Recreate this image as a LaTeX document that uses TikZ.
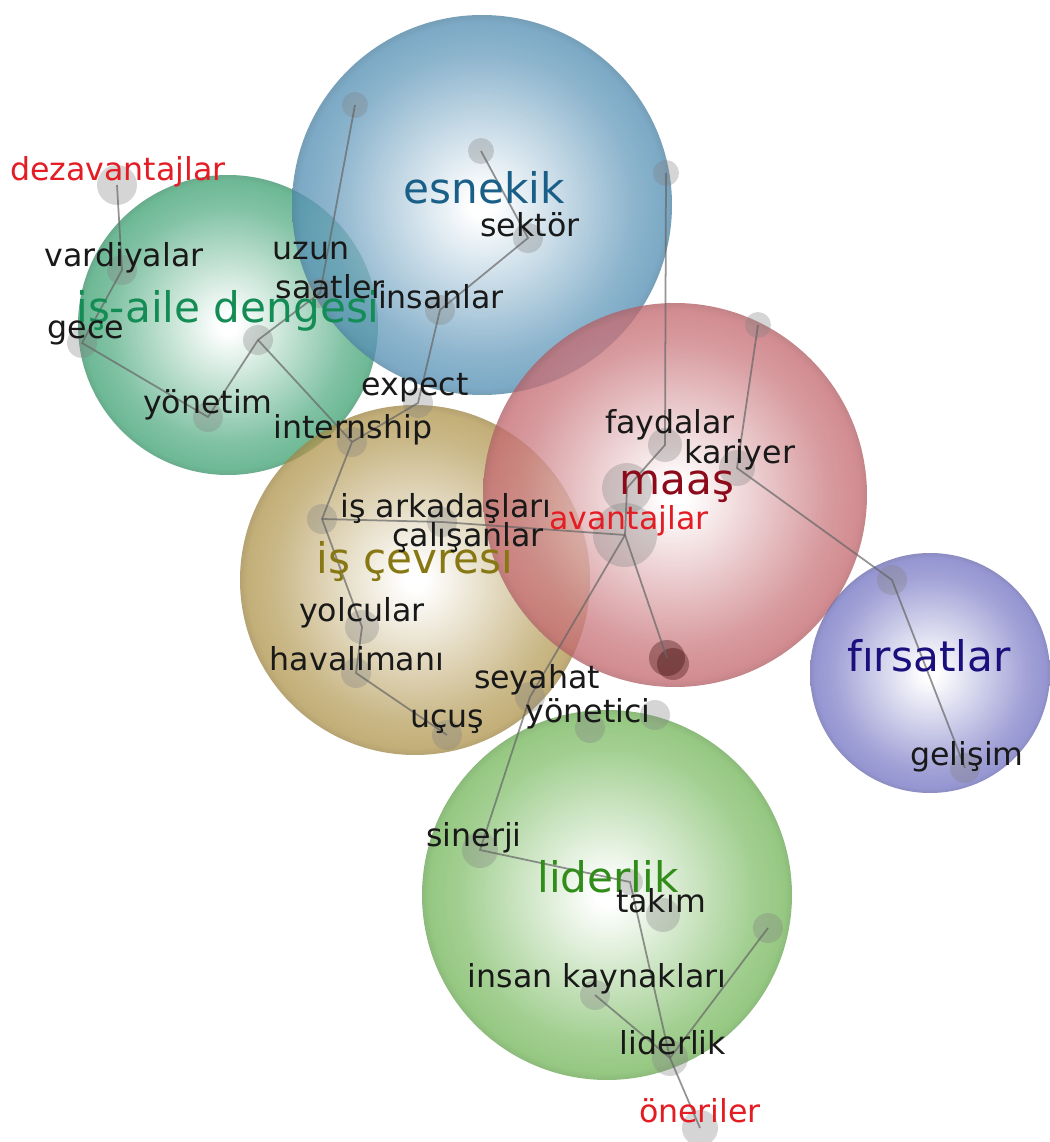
\documentclass[tikz,border=0pt]{standalone}
\usepackage{fontspec}
\setmainfont{DejaVu Sans}
\usepackage{tikz}

% soft radial fill for the topic bubbles (edge of a circle = 25bp)
\pgfdeclareradialshading[bubblecol]{bubble}{\pgfpoint{0bp}{0bp}}{%
  color(0bp)=(white); color(1.5bp)=(white);
  color(11bp)=(bubblecol!45!white); color(20bp)=(bubblecol!88!white);
  color(24bp)=(bubblecol); color(25bp)=(bubblecol!90!black);
  color(50bp)=(bubblecol!90!black)}

\definecolor{esnekblue}{RGB}{88,146,182}
\definecolor{ailegreen}{RGB}{69,165,120}
\definecolor{cevretan}{RGB}{178,152,82}
\definecolor{maasred}{RGB}{197,108,114}
\definecolor{firsatviolet}{RGB}{120,120,197}
\definecolor{liderleaf}{RGB}{120,185,95}
\definecolor{wordgray}{RGB}{25,25,25}
\definecolor{alertred}{RGB}{228,28,36}

\begin{document}
\begin{tikzpicture}[
    tint/.code={\colorlet{bubblecol}{#1}},
    ball/.style={circle, inner sep=0pt, minimum size=#1, shading=bubble, fill opacity=0.78},
    spot/.style={circle, inner sep=0pt, fill=black!50, fill opacity=0.33, minimum size=#1},
    spot/.default=3mm,
    link/.style={draw=black!60, draw opacity=0.7, line width=0.5pt},
    word/.style={inner sep=0pt, font=\fontsize{9}{10}\selectfont, text=wordgray},
    topic/.style={inner sep=0pt, font=\fontsize{12}{14}\selectfont}
]
\useasboundingbox (0,0) rectangle (10.5,11.42);

% Topic bubbles
\node[ball=3.0cm, tint=ailegreen] (aileball) at (2.28, 8.17) {};
\node[ball=3.8cm, tint=esnekblue] (esnekball) at (4.82, 9.37) {};
\node[ball=3.5cm, tint=cevretan] (cevreball) at (4.15, 5.62) {};
\node[ball=3.84cm, tint=maasred] (maasball) at (6.75, 6.47) {};
\node[ball=2.4cm, tint=firsatviolet] (firsatball) at (9.30, 4.69) {};
\node[ball=3.7cm, tint=liderleaf] (liderball) at (6.07, 2.47) {};

% Term spots: iş-aile dengesi
\node[spot=4mm] (dDez) at (1.17, 9.57) {};
\node[spot] (dVard) at (1.22, 8.72) {};
\node[spot] (dGece) at (0.82, 7.99) {};
\node[spot] (dYon) at (2.08, 7.25) {};
\node[spot] (dAile) at (2.58, 8.02) {};
\node[spot] (dUzun) at (3.20, 8.49) {};

% Term spots: esnekik
\node[spot=2.6mm] (dBlueTop) at (3.55, 10.37) {};
\node[spot=2.6mm] (dBlueMid) at (4.81, 9.91) {};
\node[spot] (dSektor) at (5.28, 9.04) {};
\node[spot] (dInsan) at (4.40, 8.32) {};
\node[spot] (dExpect) at (4.18, 7.39) {};

% Term spots: iş çevresi
\node[spot] (dIntern) at (3.52, 7.00) {};
\node[spot] (dArk) at (3.22, 6.23) {};
\node[spot] (dCalis) at (4.42, 6.20) {};
\node[spot=3.4mm] (dYolcu) at (3.62, 5.15) {};
\node[spot] (dHava) at (3.56, 4.69) {};
\node[spot] (dUcus) at (4.47, 4.07) {};
\node[spot] (dSeyahat) at (5.30, 4.45) {};

% Term spots: maaş
\node[spot=2.6mm] (dRedTop) at (6.66, 9.69) {};
\node[spot=2.6mm] (dRedRight) at (7.58, 8.17) {};
\node[spot=3.4mm] (dFayda) at (6.65, 6.97) {};
\node[spot=3.6mm] (dKariyer) at (7.37, 6.74) {};
\node[spot=5mm] (dMaas) at (6.27, 6.54) {};
\node[spot=6.4mm] (dAvantaj) at (6.25, 6.07) {};
\node[spot=3.6mm, fill=black!80!red] (dRedLow) at (6.67, 4.84) {};
\node[spot=3.2mm, fill=black!80!red] (dRedLow2) at (6.73, 4.78) {};

% Term spots: fırsatlar
\node[spot] (dFirsat) at (8.92, 5.62) {};
\node[spot] (dGelisim) at (9.65, 3.74) {};

% Term spots: liderlik
\node[spot] (dYonetA) at (5.90, 4.14) {};
\node[spot] (dYonetB) at (6.55, 4.27) {};
\node[spot=3.6mm] (dSinerji) at (4.80, 2.92) {};
\node[spot=2.6mm] (dHub) at (6.30, 2.60) {};
\node[spot=3.4mm] (dTakim) at (6.63, 2.27) {};
\node[spot] (dRight) at (7.68, 2.14) {};
\node[spot] (dInsanK) at (5.95, 1.47) {};
\node[spot=3.6mm] (dLider) at (6.70, 0.84) {};
\node[spot=3.6mm] (dOneri) at (7.00, 0.14) {};

% Links
\draw[link] (dDez.center) -- (dVard.center) -- (dGece.center) -- (dYon.center)
  -- (dAile.center) -- (dUzun.center) -- (dBlueTop.center);
\draw[link] (dAile.center) -- (dIntern.center);
\draw[link] (dBlueMid.center) -- (dSektor.center) -- (dInsan.center) -- (dExpect.center)
  -- (dIntern.center) -- (dArk.center) -- (dYolcu.center) -- (dHava.center) -- (dUcus.center);
\draw[link] (dArk.center) -- (dCalis.center) -- (dAvantaj.center);
\draw[link] (dRedTop.center) -- (dFayda.center) -- (dMaas.center) -- (dAvantaj.center);
\draw[link] (dRedRight.center) -- (dKariyer.center) -- (dFirsat.center) -- (dGelisim.center);
\draw[link] (dAvantaj.center) -- (dRedLow.center);
\draw[link] (dAvantaj.center) -- (dSeyahat.center) -- (dSinerji.center) -- (dHub.center)
  -- (dLider.center) -- (dOneri.center);
\draw[link] (dInsanK.center) -- (dLider.center);
\draw[link] (dRight.center) -- (dLider.center);

% Topic labels
\node[topic, text={rgb,255:red,25;green,95;blue,135}] (esnekik) at (4.84, 9.54) {esnekik};
\node[topic, text={rgb,255:red,20;green,140;blue,85}] (aile) at (2.28, 8.31) {iş-aile dengesi};
\node[topic, text={rgb,255:red,135;green,120;blue,20}] (cevre) at (4.15, 5.80) {iş çevresi};
\node[topic, text={rgb,255:red,140;green,10;blue,25}] (maas) at (6.77, 6.55) {maaş};
\node[topic, text={rgb,255:red,25;green,15;blue,125}] (firsat) at (9.29, 4.86) {fırsatlar};
\node[topic, text={rgb,255:red,50;green,140;blue,25}] (liderlik) at (6.08, 2.65) {liderlik};

% Term labels
\node[word, text=alertred] (dezavantaj) at (1.18, 9.70) {dezavantajlar};
\node[word] (vardiya) at (1.24, 8.84) {vardiyalar};
\node[word] (gece) at (0.86, 8.09) {gece};
\node[word] (yonetim) at (2.08, 7.37) {yönetim};
\node[word] (uzun) at (3.11, 8.91) {uzun};
\node[word] (saatler) at (3.30, 8.55) {saatler};
\node[word] (sektor) at (5.30, 9.17) {sektör};
\node[word] (insanlar) at (4.41, 8.45) {insanlar};
\node[word] (expect) at (4.15, 7.54) {expect};
\node[word] (internship) at (3.53, 7.12) {internship};
\node[word] (arkadas) at (4.46, 6.33) {iş arkadaşları};
\node[word] (calisan) at (4.68, 6.04) {çalışanlar};
\node[word] (yolcu) at (3.62, 5.29) {yolcular};
\node[word] (havalimani) at (3.57, 4.83) {havalimanı};
\node[word] (ucus) at (4.47, 4.20) {uçuş};
\node[word] (seyahat) at (5.37, 4.62) {seyahat};
\node[word] (yonetici) at (5.88, 4.28) {yönetici};
\node[word] (fayda) at (6.70, 7.17) {faydalar};
\node[word] (kariyer) at (7.40, 6.87) {kariyer};
\node[word, text=alertred] (avantaj) at (6.29, 6.21) {avantajlar};
\node[word] (gelisim) at (9.67, 3.85) {gelişim};
\node[word] (sinerji) at (4.74, 3.04) {sinerji};
\node[word] (takim) at (6.61, 2.41) {takım};
\node[word] (insank) at (5.97, 1.63) {insan kaynakları};
\node[word] (liderw) at (6.73, 0.99) {liderlik};
\node[word, text=alertred] (oneri) at (7.00, 0.31) {öneriler};

\end{tikzpicture}
\end{document}
